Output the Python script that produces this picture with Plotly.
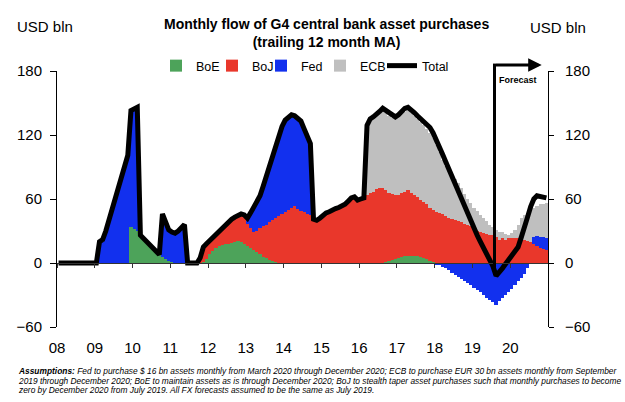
import plotly.graph_objects as go

# ---------------- data (monthly, Jan 2008 .. Dec 2020) ----------------
year_labels = ['08', '09', '10', '11', '12', '13', '14', '15', '16', '17', '18', '19', '20']
series_names = ['BoE', 'BoJ', 'Fed', 'ECB', 'Total']

boe = (
    [0] * 12 +                                                   # 2008
    [0, 0, 0, 0, 0, 0, 0, 0, 0, 0, 0, 34] +                      # 2009
    [32, 30, 26, 23, 20, 17, 14, 11, 8, 6, 4, 2] +               # 2010
    [1, 0, 0, 0, 0, 0, 0, 0, 0, 0, 1, 4] +                       # 2011
    [8, 11, 14, 16, 17, 18, 18, 19, 20, 21, 20, 18] +            # 2012
    [16, 14, 12, 10, 8, 6, 5, 3, 2, 1, 0, 0] +                   # 2013
    [0] * 12 +                                                   # 2014
    [0] * 12 +                                                   # 2015
    [0, 0, 0, 0, 0, 0, 0, 0, 1, 2, 3, 4] +                       # 2016
    [5, 6, 7, 7, 7, 7, 7, 6, 5, 4, 2, 1] +                       # 2017
    [0] * 12 + [0] * 12 + [0] * 12                               # 2018-2020
)

boj = (
    [0] * 12 + [0] * 12 + [0] * 12 +                             # 2008-2010
    [0, 0, 0, 0, 0, 0, 0, 0, 0, 5, 14, 14] +                     # 2011
    [13, 13, 13, 14, 16, 18, 21, 22, 23, 24, 25, 25] +           # 2012
    [21, 19, 17, 20, 25, 29, 31, 35, 38, 41, 44, 46] +           # 2013
    [48, 50, 52, 53, 51, 49, 48, 46, 45, 41, 40, 42] +           # 2014
    [45, 47, 48, 50, 51, 52, 53, 55, 58, 61, 62, 59] +           # 2015
    [60, 61, 64, 66, 67, 69, 70, 70, 67, 64, 62, 60] +           # 2016
    [59, 60, 60, 61, 59, 57, 55, 53, 52, 51, 50, 49] +           # 2017
    [48, 47, 46, 44, 42, 41, 40, 39, 38, 37, 36, 35] +           # 2018
    [32, 30, 29, 28, 27, 26, 26, 24, 22, 23, 22, 23] +           # 2019
    [23, 23, 23, 22, 22, 21, 20, 18, 16, 14, 13, 12]             # 2020
)

fed = (
    [0] * 12 +                                                   # 2008
    [0, 18, 20, 28, 38, 49, 59, 70, 81, 92, 99, 109] +           # 2009
    [113, 116, 0, 0, 0, 0, 0, 0, 0, 40, 33, 29] +                # 2010
    [28, 28, 30, 33, 36, 0, 0, 0, 0, 0, 0, 0] +                  # 2011
    [0, 0, 0, 0, 0, 0, 0, 0, 0, 0, 0, 2] +                       # 2012
    [5, 14, 23, 27, 30, 37, 46, 54, 62, 69, 76, 82] +            # 2013
    [86, 87, 87, 85, 85, 84, 78, 73, 67, 0, 0, 0] +              # 2014
    [0] * 12 + [0] * 12 + [0] * 12 +                             # 2015-2017
    [-1, -2, -4, -5, -7, -9, -11, -13, -15, -17, -19, -21] +     # 2018
    [-23, -25, -27, -30, -33, -35, -37, -39, -36, -33, -30, -27] +  # 2019
    [-24, -21, -17, -14, -10, -5, 0, 6, 9, 10, 11, 11]           # 2020
)

ecb = (
    [0] * 12 * 8 +                                               # 2008-2015
    [0, 0, 64, 68, 69, 69, 70, 73, 73, 72, 71, 71] +             # 2016
    [73, 74, 75, 75, 75, 74, 73, 73, 72, 71, 70, 67] +           # 2017
    [63, 57, 51, 47, 44, 41, 39, 36, 32, 28, 24, 21] +           # 2018
    [20, 19, 16, 14, 12, 10, 8, 7, 7, 6, 5, 3] +                 # 2019
    [5, 8, 13, 20, 23, 26, 30, 28, 28, 31, 31, 33]               # 2020
)

total = (
    [0] * 12 +                                                   # 2008
    [0, 20, 22, 30, 40, 51, 61, 72, 83, 94, 101, 143] +          # 2009
    [145, 146, 26, 23, 20, 17, 14, 11, 8, 46, 37, 31] +          # 2010
    [29, 28, 30, 33, 36, 0, 0, 0, 0, 5, 15, 18] +                # 2011
    [21, 24, 27, 30, 33, 36, 39, 41, 43, 45, 46, 45] +           # 2012
    [42, 47, 52, 57, 63, 72, 82, 92, 102, 111, 120, 128] +       # 2013
    [134, 137, 139, 138, 136, 133, 126, 119, 112, 41, 40, 42] +  # 2014
    [45, 47, 48, 50, 51, 52, 53, 55, 58, 61, 62, 59] +           # 2015
    [60, 61, 129, 135, 137, 139, 142, 145, 143, 140, 138, 137] + # 2016
    [139, 142, 145, 146, 144, 141, 138, 135, 132, 129, 127, 122] +  # 2017
    [116, 109, 102, 95, 88, 80, 72, 66, 59, 52, 46, 39] +        # 2018
    [32, 26, 20, 14, 8, 3, -3, -12, -9, -5, -1, 3] +             # 2019
    [7, 10, 15, 24, 32, 43, 53, 60, 63, 62, 61, 61]              # 2020
)

months = list(range(len(total)))            # 0 = Jan 2008
year_ticks = [12 * i - 0.5 for i in range(len(year_labels))]
y_ticks = [-60, 0, 60, 120, 180]
forecast_start = 138.5                      # July 2019
forecast_end = 153.5

colors = {'BoE': '#4DA35A', 'BoJ': '#E9372B', 'Fed': '#1230EE', 'ECB': '#BFBFBF'}
legend_w = {'BoE': 11, 'BoJ': 4, 'Fed': 14, 'ECB': 17, 'Total': 30}

FONT = 'Liberation Sans, Arial, sans-serif'

fig = go.Figure()
for name, vals in zip(series_names[:4], [boe, boj, fed, ecb]):
    fig.add_trace(go.Bar(
        x=months, y=vals, name=name, width=1,
        marker=dict(color=colors[name], line=dict(width=0)),
        legendwidth=legend_w[name],
    ))
fig.add_trace(go.Scatter(
    x=months, y=total, name='Total', mode='lines',
    line=dict(color='black', width=5),
    legendwidth=legend_w['Total'],
))

axis_common = dict(showgrid=False, zeroline=False)

fig.update_layout(
    width=625, height=402,
    margin=dict(l=57, r=77, t=71, b=75, autoexpand=False),
    paper_bgcolor='white', plot_bgcolor='white',
    barmode='relative', bargap=0,
    font=dict(family=FONT, color='black'),
    showlegend=True,
    legend=dict(orientation='h', x=0.2016, xanchor='left', y=1.0195, yanchor='middle',
                font=dict(size=12.5, family=FONT), bgcolor='rgba(0,0,0,0)',
                itemwidth=30, entrywidthmode='pixels', traceorder='normal'),
    xaxis=dict(range=[-0.5, 155.5], tickmode='array', tickvals=year_ticks, ticktext=year_labels,
               showline=False, ticks='', tickfont=dict(size=15), ticklabelstandoff=10,
               **axis_common),
    xaxis2=dict(overlaying='x', anchor='free', position=0.25, range=[-0.5, 155.5],
                tickmode='array', tickvals=year_ticks, showticklabels=False,
                ticks='outside', ticklen=4, tickcolor='#333333',
                showline=True, linecolor='#333333', linewidth=1, **axis_common),
    yaxis=dict(range=[-60, 180], tickmode='array', tickvals=y_ticks,
               showline=True, linecolor='black', linewidth=1,
               ticks='outside', ticklen=6, tickcolor='black',
               tickfont=dict(size=15), ticklabelstandoff=5, **axis_common),
    yaxis2=dict(overlaying='y', side='right', anchor='x', range=[-60, 180],
                tickmode='array', tickvals=y_ticks,
                showline=True, linecolor='black', linewidth=1,
                ticks='outside', ticklen=5, tickcolor='black',
                tickfont=dict(size=15), ticklabelstandoff=8, **axis_common),
)

# dummy traces so the secondary axes are drawn
fig.add_trace(go.Scatter(x=[None], y=[None], xaxis='x2', yaxis='y', showlegend=False, hoverinfo='skip'))
fig.add_trace(go.Scatter(x=[None], y=[None], xaxis='x', yaxis='y2', showlegend=False, hoverinfo='skip'))

# forecast marker: vertical line + arrow
fig.add_shape(type='line', xref='x', yref='paper', x0=forecast_start, x1=forecast_start,
              y0=0.204, y1=1.029, line=dict(color='black', width=3))
fig.add_annotation(xref='x', yref='paper', x=forecast_end, y=1.0234,
                   axref='x', ayref='pixel', ax=forecast_start, ay=0,
                   text='', showarrow=True, arrowhead=2, arrowsize=0.9,
                   arrowwidth=3, arrowcolor='black', standoff=0, startstandoff=0)
fig.add_annotation(xref='paper', yref='paper', x=0.938, y=0.965, xanchor='center', yanchor='middle',
                   text='<b>Forecast</b>', showarrow=False, font=dict(size=9, family=FONT))

# title and unit labels
fig.add_annotation(xref='paper', yref='paper', x=0.548, y=1.148, xanchor='center', yanchor='middle',
                   text='<b>Monthly flow of G4 central bank asset purchases</b><br><b>(trailing 12 month MA)</b>',
                   showarrow=False, font=dict(size=14, family=FONT))
fig.add_annotation(xref='paper', yref='paper', x=-0.024, y=1.172, xanchor='center', yanchor='middle',
                   text='USD bln', showarrow=False, font=dict(size=15, family=FONT))
fig.add_annotation(xref='paper', yref='paper', x=1.0204, y=1.168, xanchor='center', yanchor='middle',
                   text='USD bln', showarrow=False, font=dict(size=15, family=FONT))

# footnote
foot = [
    '<b>Assumptions:</b> Fed to purchase $ 16 bn assets monthly from March 2020 through December 2020; '
    'ECB to purchase EUR 30 bn assets monthly from September',
    '2019 through December 2020; BoE to maintain assets as is through December 2020; '
    'BoJ to stealth taper asset purchases such that monthly purchases to become',
    'zero by December 2020 from July 2019. All FX forecasts assumed to be the same as July 2019.',
]
foot_sizes = [8.4, 8.35, 8.4]
for i, line in enumerate(foot):
    fig.add_annotation(xref='paper', yref='paper', x=-0.0835, y=-0.172 - 0.037 * i,
                       xanchor='left', yanchor='middle', text='<i>' + line + '</i>',
                       showarrow=False, font=dict(size=foot_sizes[i], family=FONT))

fig.write_html('out.html')
